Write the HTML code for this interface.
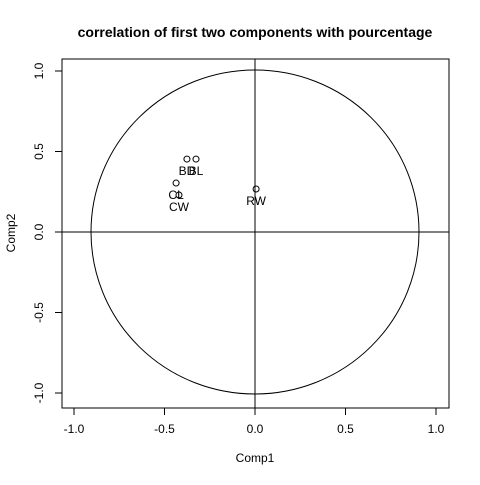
<!DOCTYPE html>
<html><head><meta charset="utf-8"><style>
body{margin:0;background:#fff}
text{font-family:"Liberation Sans",Arial,sans-serif;fill:#000}
</style></head><body>
<svg id="c" width="480" height="480" xmlns="http://www.w3.org/2000/svg">
<text x="255" y="37" text-anchor="middle" font-size="14" font-weight="bold">correlation of first two components with pourcentage</text>
<rect x="62" y="59" width="387" height="349" fill="none" stroke="#000"/>
<text x="255" y="462" text-anchor="middle" font-size="12">Comp1</text>
<text transform="translate(15,233) rotate(-90)" text-anchor="middle" font-size="12">Comp2</text>
<g id="g"></g>
</svg>
<script>
const labels=["BD","BL","CL","CW","RW"];
const comp1=[-0.376,-0.326,-0.436,-0.42,0.006];
const comp2=[0.453,0.453,0.304,0.23,0.267];
const ticks=[-1,-0.5,0,0.5,1];
const tickLabels=["-1.0","-0.5","0.0","0.5","1.0"];
const X=v=>255+v*181, Y=v=>232-v*161;
const g=document.getElementById('g'),NS="http://www.w3.org/2000/svg";
function mk(t,a,txt){const e=document.createElementNS(NS,t);for(const k in a)e.setAttribute(k,a[k]);if(txt!=null)e.textContent=txt;g.appendChild(e);return e;}
ticks.forEach((t,i)=>{
 let l=mk('line',{x1:X(t),x2:X(t),y1:408,y2:415,stroke:'#000'});
 
 let tx=mk('text',{x:X(t),y:433,'text-anchor':'middle','font-size':12},tickLabels[i]);
 
 let l2=mk('line',{x1:55,x2:62,y1:Y(t),y2:Y(t),stroke:'#000'});
 
 let ty=mk('text',{transform:`translate(43,${Y(t)}) rotate(-90)`,'text-anchor':'middle','font-size':12},tickLabels[i]);
 
});
let c=mk('ellipse',{cx:X(0),cy:Y(0),rx:164,ry:162,fill:'none',stroke:'#000'});

let h=mk('line',{x1:62,x2:449,y1:Y(0),y2:Y(0),stroke:'#000'});

let v=mk('line',{x1:X(0),x2:X(0),y1:59,y2:408,stroke:'#000'});

labels.forEach((n,i)=>{
 let p=mk('circle',{cx:X(comp1[i]),cy:Y(comp2[i]),r:3,fill:'none',stroke:'#000'});
 
 let t=mk('text',{x:X(comp1[i]),y:Y(comp2[i])+16,'text-anchor':'middle','font-size':12},n);
 
});
</script>
</body></html>
